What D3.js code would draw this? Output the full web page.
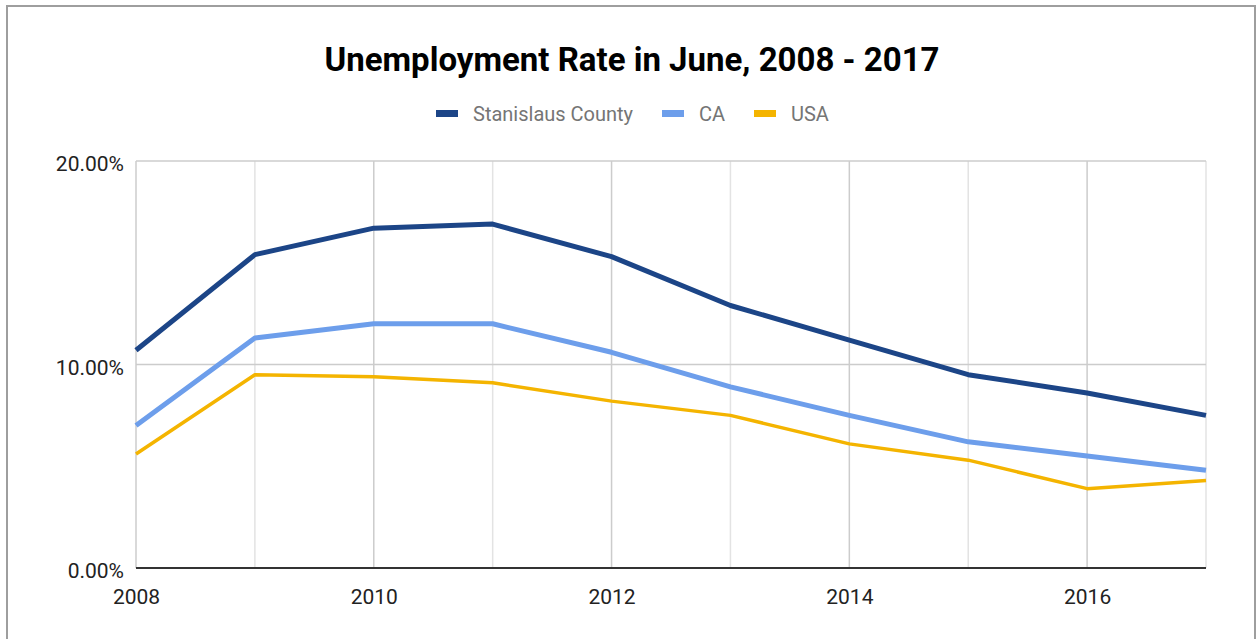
<!DOCTYPE html>
<html><head><meta charset="utf-8">
<script src="https://cdn.jsdelivr.net/npm/d3@7"></script>
<style>body{margin:0;background:#fff;}svg{display:block;font-family:Roboto, sans-serif;}</style>
</head><body>
<svg id="c" width="1257" height="639"></svg>
<script>
const years = [2008,2009,2010,2011,2012,2013,2014,2015,2016,2017];
const stanislaus = [10.7,15.4,16.7,16.9,15.3,12.9,11.2,9.5,8.6,7.5];
const ca = [7.0,11.3,12.0,12.0,10.6,8.9,7.5,6.2,5.5,4.8];
const usa = [5.6,9.5,9.4,9.1,8.2,7.5,6.1,5.3,3.9,4.3];
const seriesNames = ["Stanislaus County","CA","USA"];
const colors = ["#1c4587","#6d9eeb","#f4b400"];
const widths = [5,5,3.5];
const yTicks = [0,10,20];
const xTicks = [2008,2010,2012,2014,2016];

const svg = d3.select("#c");
svg.append("rect").attr("x",7).attr("y",6).attr("width",1248).attr("height",700)
  .attr("fill","#fff").attr("stroke","#9e9e9e").attr("stroke-width",2);

const x = d3.scaleLinear().domain([2008,2017]).range([136,1206]);
const y = d3.scaleLinear().domain([0,20]).range([568,161]);

// vertical gridlines
svg.append("g").selectAll("line").data(years).join("line")
  .attr("x1",d=>x(d)).attr("x2",d=>x(d)).attr("y1",y(20)).attr("y2",y(0))
  .attr("stroke",d=>(d%2===0)?"#cccccc":"#e3e3e3").attr("stroke-width",1.5);
// horizontal gridlines
svg.append("g").selectAll("line").data(yTicks.filter(d=>d>0)).join("line")
  .attr("x1",x(2008)).attr("x2",x(2017)).attr("y1",d=>y(d)).attr("y2",d=>y(d))
  .attr("stroke","#cccccc").attr("stroke-width",1.5);

// y labels
const yAxis = d3.axisLeft(y).tickValues(yTicks).tickSize(0).tickPadding(12)
  .tickFormat(d=>d3.format(".2f")(d)+"%");
const gy = svg.append("g").attr("transform",`translate(${x(2008)},3)`).call(yAxis);
gy.select(".domain").remove();
gy.selectAll("text").attr("font-size",21).attr("fill","#222").attr("font-family","Roboto");

// x labels
const xAxis = d3.axisBottom(x).tickValues(xTicks).tickSize(0).tickPadding(21)
  .tickFormat(d3.format("d"));
const gx = svg.append("g").attr("transform",`translate(0,${y(0)})`).call(xAxis);
gx.select(".domain").remove();
gx.selectAll("text").attr("font-size",21).attr("fill","#222").attr("font-family","Roboto");

// baseline
svg.append("line").attr("x1",x(2008)).attr("x2",x(2017)).attr("y1",y(0)).attr("y2",y(0))
  .attr("stroke","#333").attr("stroke-width",2);

// lines
const data = [stanislaus, ca, usa];
const line = d3.line().x((d,i)=>x(years[i])).y(d=>y(d));
data.forEach((s,k)=>{
  svg.append("path").datum(s).attr("d",line).attr("fill","none")
    .attr("stroke",colors[k]).attr("stroke-width",widths[k]).attr("stroke-linejoin","round");
});

// title
svg.append("text").attr("x",632).attr("y",71).attr("text-anchor","middle")
  .attr("font-size",33).attr("font-weight","bold").attr("fill","#000")
  .text("Unemployment Rate in June, 2008 - 2017");

// legend
const legX = [436,662,754];
seriesNames.forEach((n,k)=>{
  svg.append("rect").attr("x",legX[k]).attr("y",110).attr("width",22).attr("height",7).attr("fill",colors[k]);
  svg.append("text").attr("x",legX[k]+37).attr("y",121).attr("font-size",20).attr("fill","#757575").text(n);
});
</script>
</body></html>
